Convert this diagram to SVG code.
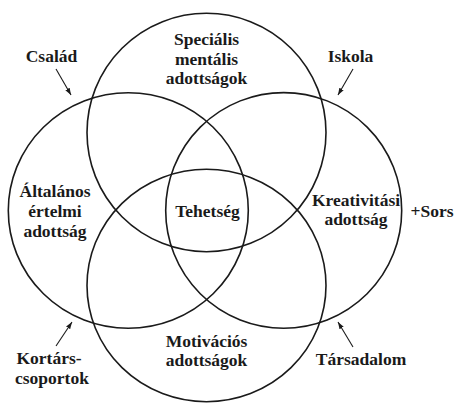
<svg xmlns="http://www.w3.org/2000/svg" width="455" height="403" viewBox="0 0 455 403">
<defs>
<style>
.c{fill:none;stroke:#1a1a1a;stroke-width:1.6}
.t{font-family:"Liberation Serif","Times New Roman",serif;font-weight:bold;font-size:17.5px;fill:#1a1a1a;text-anchor:middle}
.a{stroke:#1a1a1a;stroke-width:1.1;fill:none}
</style>
<marker id="ah" viewBox="0 0 10 10" refX="10" refY="5" markerWidth="7" markerHeight="7" orient="auto" markerUnits="userSpaceOnUse">
<path d="M0,1.5 L10,5 L0,8.5 Z" fill="#1a1a1a"/>
</marker>
</defs>
<rect width="455" height="403" fill="#fff"/>
<g id="specialis">
<ellipse class="c" cx="206.5" cy="132.5" rx="119.5" ry="119.2"/>
<text class="t" x="206.5" y="45">Speciális</text>
<text class="t" x="206.5" y="65">mentális</text>
<text class="t" x="206.5" y="84">adottságok</text>
</g>
<g id="altalanos">
<ellipse class="c" cx="128.3" cy="210.5" rx="120" ry="117.8"/>
<text class="t" x="55" y="197">Általános</text>
<text class="t" x="55" y="217">értelmi</text>
<text class="t" x="55" y="237">adottság</text>
</g>
<g id="kreativitasi">
<ellipse class="c" cx="283.7" cy="210.4" rx="118" ry="117.8"/>
<text class="t" x="356" y="206">Kreativitási</text>
<text class="t" x="356" y="225">adottság</text>
</g>
<g id="motivacios">
<ellipse class="c" cx="206.5" cy="285.5" rx="119.5" ry="116.2"/>
<text class="t" x="206.5" y="347">Motivációs</text>
<text class="t" x="206.5" y="366">adottságok</text>
</g>
<g id="tehetseg">
<text class="t" x="207.5" y="217">Tehetség</text>
</g>
<g id="csalad">
<text class="t" x="51.5" y="62">Család</text>
</g>
<g id="iskola">
<text class="t" x="350.5" y="62">Iskola</text>
</g>
<g id="sors">
<text class="t" x="432" y="217">+Sors</text>
</g>
<g id="kortars">
<text class="t" x="49" y="364">Kortárs-</text>
<text class="t" x="52" y="384">csoportok</text>
</g>
<g id="tarsadalom">
<text class="t" x="361" y="365">Társadalom</text>
</g>
<g id="connectors">
<line class="a" x1="56" y1="69" x2="71" y2="95" marker-end="url(#ah)"/>
<line class="a" x1="353" y1="69" x2="338" y2="95" marker-end="url(#ah)"/>
<line class="a" x1="56" y1="346" x2="72" y2="322" marker-end="url(#ah)"/>
<line class="a" x1="353" y1="347" x2="338" y2="322" marker-end="url(#ah)"/>
</g>
</svg>
